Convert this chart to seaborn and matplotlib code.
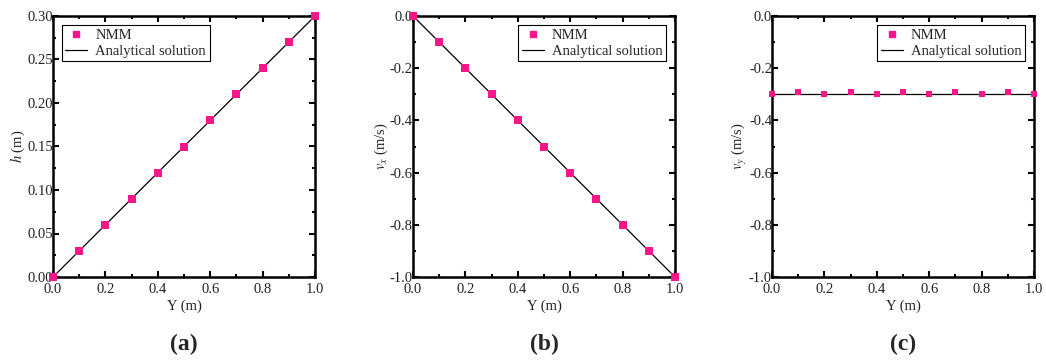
import numpy as np
import pandas as pd
import matplotlib
matplotlib.use("Agg")
import matplotlib.pyplot as plt
from matplotlib.ticker import MultipleLocator, FormatStrFormatter
from matplotlib.lines import Line2D
import seaborn as sns

sns.set_theme(style="ticks")
plt.rcParams['font.family'] = ['Liberation Serif', 'DejaVu Serif']
plt.rcParams['mathtext.fontset'] = 'stix'

# data
y_pos = [0.0, 0.1, 0.2, 0.3, 0.4, 0.5, 0.6, 0.7, 0.8, 0.9, 1.0]
h_nmm = [0.0, 0.03, 0.06, 0.09, 0.12, 0.15, 0.18, 0.21, 0.24, 0.27, 0.30]
vx_nmm = [0.0, -0.1, -0.2, -0.3, -0.4, -0.5, -0.6, -0.7, -0.8, -0.9, -1.0]
vy_nmm = [-0.300, -0.293, -0.300, -0.293, -0.300, -0.293, -0.300, -0.293, -0.300, -0.293, -0.300]
ana_y = [0.0, 1.0]
h_ana = [0.0, 0.30]
vx_ana = [0.0, -1.0]
vy_ana = [-0.30, -0.30]

panels = [
    dict(nmm=h_nmm, ana=h_ana, ylim=(0, 0.30), ymaj=0.05, ymin=0.025, fmt='%.2f',
         ylabel=r'$h$ (m)', leg='upper left', letter='a', ms=6),
    dict(nmm=vx_nmm, ana=vx_ana, ylim=(-1.0, 0.0), ymaj=0.2, ymin=0.1, fmt='%.1f',
         ylabel=r'$v_x$ (m/s)', leg='upper right', letter='b', ms=6),
    dict(nmm=vy_nmm, ana=vy_ana, ylim=(-1.0, 0.0), ymaj=0.2, ymin=0.1, fmt='%.1f',
         ylabel=r'$v_y$ (m/s)', leg='upper right', letter='c', ms=4.5),
]

pink = '#F5168A'
fig = plt.figure(figsize=(10.46, 3.61), dpi=100)
lefts = [53, 413, 772]
W, H = 1046, 361
for left, p in zip(lefts, panels):
    ax = fig.add_axes([left / W, (H - 277) / H, 262 / W, 261 / H])
    df_n = pd.DataFrame({'Y': y_pos, 'v': p['nmm']})
    df_a = pd.DataFrame({'Y': ana_y, 'v': p['ana']})
    sns.lineplot(data=df_a, x='Y', y='v', ax=ax, color='black', linewidth=0.9, zorder=2)
    sns.scatterplot(data=df_n, x='Y', y='v', ax=ax, marker='s', s=p['ms'] ** 2,
                    color=pink, edgecolor=pink, linewidth=0, zorder=3, clip_on=False)
    ax.set_xlim(0, 1.0)
    ax.set_ylim(*p['ylim'])
    ax.xaxis.set_major_locator(MultipleLocator(0.2))
    ax.xaxis.set_minor_locator(MultipleLocator(0.1))
    ax.yaxis.set_major_locator(MultipleLocator(p['ymaj']))
    ax.yaxis.set_minor_locator(MultipleLocator(p['ymin']))
    ax.xaxis.set_major_formatter(FormatStrFormatter('%.1f'))
    ax.yaxis.set_major_formatter(FormatStrFormatter(p['fmt']))
    ax.tick_params(which='both', direction='in', top=True, right=True, width=1.5,
                   labelsize=10.5, colors='black', labelcolor='#222222')
    ax.tick_params(axis='x', which='both', pad=4)
    ax.tick_params(axis='y', which='both', pad=0)
    ax.tick_params(which='major', length=4)
    ax.tick_params(which='minor', length=2.5)
    for s in ax.spines.values():
        s.set_linewidth(1.8)
        s.set_color('black')
    ax.set_xlabel('Y (m)', fontsize=10.5, labelpad=3, color='#222222')
    ax.set_ylabel(p['ylabel'], fontsize=10.5, labelpad=0, color='#222222')
    handles = [Line2D([], [], marker='s', color=pink, linestyle='none', markersize=5),
               Line2D([], [], color='black', linewidth=0.9)]
    lg = ax.legend(handles, ['NMM', 'Analytical solution'], loc=p['leg'], fontsize=10.5,
                   frameon=True, fancybox=False, edgecolor='black', framealpha=1,
                   borderpad=0.25, labelspacing=0.2, handlelength=1.5, handletextpad=0.55,
                   borderaxespad=0.6)
    lg.get_frame().set_linewidth(0.8)
    fig.text((left + 131) / W, 1 - 344 / H, '(' + p['letter'] + ')', ha='center', va='center',
             fontsize=17, fontweight='bold', family=['Liberation Serif', 'DejaVu Serif'])

fig.savefig('out.png', dpi=100)
